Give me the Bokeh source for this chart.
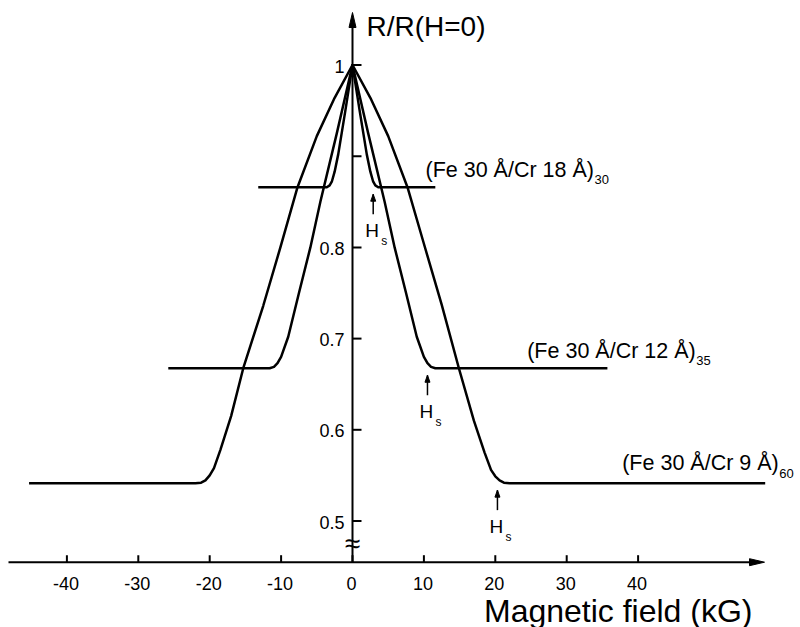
from bokeh.plotting import figure
from bokeh.models import Range1d
from bokeh.embed import file_html
from bokeh.resources import INLINE
from bokeh.core.properties import value

# ---------------- data ----------------
# (Fe 30 A / Cr 9 A)_60
h_cr9 = [-45.3, -30.0, -22.0, -21.2, -20.6, -20.0, -19.4, -18.5, -17.0, -15.3, -12.5, -10.1, -7.7, -5.0, -2.5, 0.0,
         2.5, 5.0, 7.7, 10.0, 12.5, 14.9, 17.0, 18.5, 19.4, 20.0, 20.6, 21.2, 22.0, 30.0, 57.8]
r_cr9 = [0.5415, 0.5415, 0.5415, 0.542, 0.5445, 0.550, 0.558, 0.578, 0.615, 0.6675, 0.736, 0.800, 0.866, 0.922, 0.964, 1.0,
         0.964, 0.922, 0.866, 0.804, 0.737, 0.6675, 0.610, 0.575, 0.556, 0.549, 0.5445, 0.542, 0.5415, 0.5415, 0.5415]
# (Fe 30 A / Cr 12 A)_35
h_cr12 = [-25.8, -15.0, -11.6, -11.0, -10.5, -10.0, -9.0, -7.5, -5.9, -4.5, -2.2, 0.0,
          2.2, 4.5, 5.9, 7.5, 9.0, 10.0, 10.5, 11.0, 11.6, 15.0, 35.7]
r_cr12 = [0.6675, 0.6675, 0.6675, 0.669, 0.673, 0.680, 0.702, 0.750, 0.800, 0.850, 0.925, 1.0,
          0.925, 0.850, 0.800, 0.750, 0.702, 0.680, 0.673, 0.669, 0.6675, 0.6675, 0.6675]
# (Fe 30 A / Cr 18 A)_30
h_cr18 = [-13.2, -5.0, -3.6, -3.2, -2.9, -2.5, -2.0, -1.0, 0.0, 1.0, 2.0, 2.5, 2.9, 3.2, 3.6, 5.0, 11.6]
r_cr18 = [0.866, 0.866, 0.866, 0.868, 0.872, 0.883, 0.902, 0.950, 1.0, 0.950, 0.902, 0.883, 0.872, 0.868, 0.866, 0.866, 0.866]

# saturation fields H_s (kG) and saturated levels
hs_field = [2.9, 10.5, 20.3]
hs_level = [0.866, 0.6675, 0.5415]

x_ticks = [-40, -30, -20, -10, 0, 10, 20, 30, 40]
x_tick_labels = ["-40", "-30", "-20", "-10", "0", "10", "20", "30", "40"]
y_ticks = [0.5, 0.6, 0.7, 0.8, 0.9, 1.0]
y_tick_labels = ["0.5", "0.6", "0.7", "0.8", "", "1"]

series_main = ["(Fe 30 Å/Cr 18 Å)", "(Fe 30 Å/Cr 12 Å)", "(Fe 30 Å/Cr 9 Å)"]
series_sub = ["30", "35", "60"]

# ---------------- geometry ----------------
W, H = 800, 627
PX0, KX = 352.0, 7.14      # pixel of H=0, px per kG
PY05, KY = 520.5, 912.0    # pixel of R=0.5, px per unit R
X0, X1 = -PX0 / KX, (W - PX0) / KX
Y1, Y0 = 0.5 + PY05 / KY, 0.5 - (H - PY05) / KY


def dx(px):
    return px / KX


def dy(px):
    return px / KY


def xp(px):   # page pixel -> data x
    return X0 + px / KX


def yp(py):   # page pixel -> data y
    return Y1 - py / KY


# Arial / Liberation Sans advance widths (1/1000 em) for label placement
ADV = {'(': 333, ')': 333, 'F': 611, 'e': 556, ' ': 278, 'Å': 667, '/': 278, 'C': 722, 'r': 333, 'H': 722}


def text_w(s, size):
    return sum(ADV.get(c, 556) for c in s) * size / 1000.0


FONT = value("Liberation Sans")

p = figure(width=W, height=H, output_backend="svg", toolbar_location=None,
           x_range=Range1d(X0, X1), y_range=Range1d(Y0, Y1),
           x_axis_type=None, y_axis_type=None, min_border=0)
p.outline_line_color = None
p.grid.visible = False
p.background_fill_color = "white"
p.border_fill_color = "white"

# ---------------- axes drawn in data space ----------------
x_axis_y = yp(561.7)
x_axis_x0 = xp(8)
x_axis_tip = xp(764)
y_axis_tip = yp(12)

p.line([x_axis_x0, x_axis_tip - dx(8)], [x_axis_y, x_axis_y], line_color="black", line_width=2)
p.patch([x_axis_tip, x_axis_tip - dx(15), x_axis_tip - dx(15)],
        [x_axis_y, x_axis_y + dy(3.5), x_axis_y - dy(3.5)], fill_color="black", line_color="black")
p.line([0, 0], [x_axis_y, y_axis_tip - dy(8)], line_color="black", line_width=2)
p.patch([0, -dx(3.5), dx(3.5)], [y_axis_tip, y_axis_tip - dy(15), y_axis_tip - dy(15)],
        fill_color="black", line_color="black")

# x ticks (pointing up)
p.segment(x0=x_ticks, y0=[x_axis_y] * len(x_ticks), x1=x_ticks, y1=[x_axis_y + dy(7)] * len(x_ticks),
          line_color="black", line_width=2)
p.text(x=[t - dx(1) for t in x_ticks], y=[yp(583)] * len(x_ticks), text=x_tick_labels, text_font=FONT,
       text_font_size="18px", text_align="center", text_baseline="middle", text_color="black")
# y ticks (pointing right)
p.segment(x0=[0] * len(y_ticks), y0=y_ticks, x1=[dx(9)] * len(y_ticks), y1=y_ticks,
          line_color="black", line_width=2)
p.text(x=[-dx(8)] * len(y_ticks), y=[t - dy(1) for t in y_ticks], text=y_tick_labels, text_font=FONT,
       text_font_size="18px", text_align="right", text_baseline="middle", text_color="black")

# axis break mark
p.text(x=[0], y=[yp(543)], text=["≈"], text_font=FONT, text_font_size="28px",
       text_align="center", text_baseline="middle", text_color="black")

# axis titles
p.text(x=[xp(366)], y=[yp(26)], text=["R/R(H=0)"], text_font=FONT, text_font_size="28px",
       text_align="left", text_baseline="middle", text_color="black")
p.text(x=[xp(752)], y=[yp(610)], text=["Magnetic field (kG)"], text_font=FONT,
       text_font_size="32px", text_align="right", text_baseline="middle", text_color="black")

# ---------------- curves ----------------
for hh, rr in [(h_cr9, r_cr9), (h_cr12, r_cr12), (h_cr18, r_cr18)]:
    p.line(hh, rr, line_color="black", line_width=2.5, line_join="round")

# ---------------- series labels ----------------
LAB = 21.5
lab_px = [425.0, 526.7, 621.7]
lab_py = [169.0, 350.0, 462.5]
p.text(x=[xp(v) for v in lab_px], y=[yp(v) for v in lab_py], text=series_main, text_font=FONT,
       text_font_size=f"{LAB}px", text_align="left", text_baseline="middle", text_color="black")
p.text(x=[xp(v + text_w(s, LAB) + 0.5) for v, s in zip(lab_px, series_main)],
       y=[yp(v + 10) for v in lab_py], text=series_sub, text_font=FONT, text_font_size="13px",
       text_align="left", text_baseline="middle", text_color="black")

# ---------------- H_s markers ----------------
arr_bot = [lv - dy(27) for lv in hs_level]
arr_top = [lv - dy(7) for lv in hs_level]
p.segment(x0=hs_field, y0=arr_bot, x1=hs_field, y1=arr_top, line_color="black", line_width=1.5)
p.patches(xs=[[h, h - dx(2.5), h + dx(2.5)] for h in hs_field],
          ys=[[t, t - dy(7), t - dy(7)] for t in arr_top], fill_color="black", line_color="black")
p.text(x=[h - dx(1) for h in hs_field], y=[lv - dy(43) for lv in hs_level], text=["H"] * 3, text_font=FONT,
       text_font_size="19px", text_align="center", text_baseline="middle", text_color="black")
p.text(x=[h + dx(8) for h in hs_field], y=[lv - dy(54) for lv in hs_level], text=["s"] * 3,
       text_font=FONT, text_font_size="12px", text_align="left", text_baseline="middle",
       text_color="black")

open("out.html", "w").write(file_html(p, INLINE))
